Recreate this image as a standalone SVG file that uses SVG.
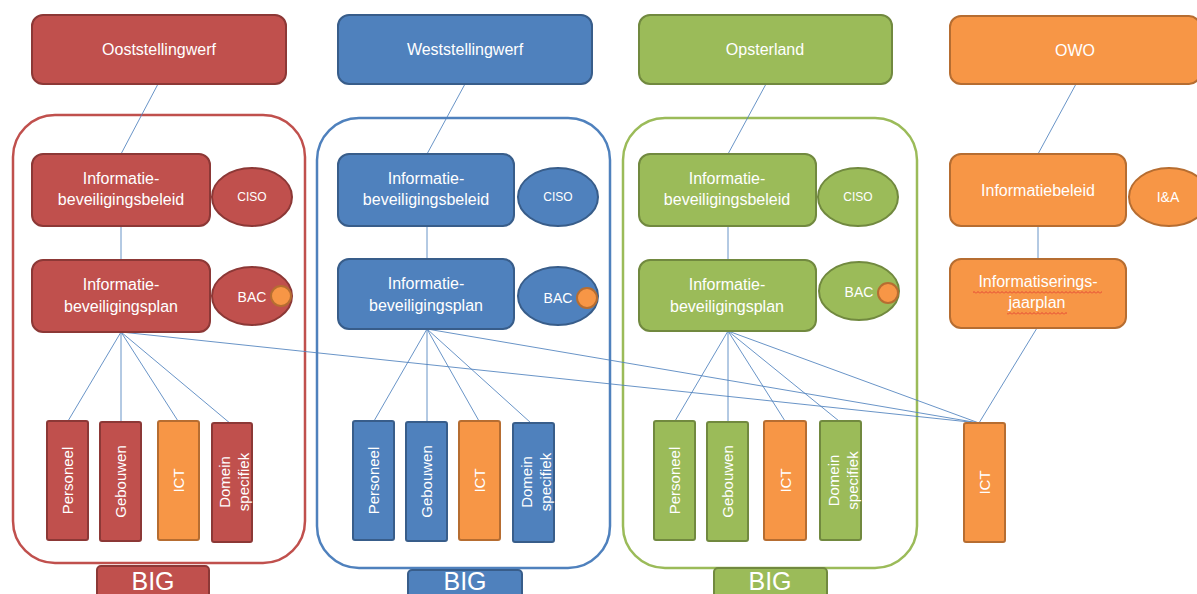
<svg xmlns="http://www.w3.org/2000/svg" width="1197" height="594" viewBox="0 0 1197 594">
<style>
.red{fill:#C0504D;stroke:#8C3836;stroke-width:2}
.blue{fill:#4F81BD;stroke:#385D8A;stroke-width:2}
.green{fill:#9BBB59;stroke:#71893F;stroke-width:2}
.orange{fill:#F79646;stroke:#B66D31;stroke-width:2}
.dot{fill:#F79646;stroke:#B66D31;stroke-width:2}
.cont{fill:#fff;stroke-width:2.5}
.t{font-family:"Liberation Sans",Arial,sans-serif;fill:#fff;text-anchor:middle}
.top{font-size:16px}
.mid{font-size:16px}
.sm{font-size:12px}
.bac{font-size:14px}
.v{font-size:15px}
.big{font-size:25px}
.conn path{fill:none;stroke:#4F81BD;stroke-width:1;opacity:0.85}
</style>
<defs>
<pattern id="wavy" width="4" height="3" patternUnits="userSpaceOnUse">
<path d="M0,2.5 L2,0.5 L4,2.5" fill="none" stroke="#E03030" stroke-width="0.8"/>
</pattern>
</defs>
<rect width="1197" height="594" fill="#fff"/>

<!-- containers -->
<g id="container-red"><rect class="cont" x="13" y="115" width="292" height="448" rx="42" stroke="#C0504D"/></g>
<g id="container-blue"><rect class="cont" x="317" y="118" width="293" height="450" rx="42" stroke="#4F81BD"/></g>
<g id="container-green"><rect class="cont" x="623" y="118" width="294" height="450" rx="42" stroke="#9BBB59"/></g>

<!-- BIG labels -->
<g id="big-red"><rect class="red" x="97" y="566" width="112" height="40" rx="4"/><text class="t big" x="153" y="590">BIG</text></g>
<g id="big-blue"><rect class="blue" x="408" y="570" width="114" height="40" rx="4"/><text class="t big" x="465" y="590">BIG</text></g>
<g id="big-green"><rect class="green" x="714" y="568" width="113" height="40" rx="4"/><text class="t big" x="770" y="590">BIG</text></g>

<g class="conn" id="connectors">
<path d="M158,84 L121,154"/>
<path d="M121,226 L121,260"/>
<path d="M121,332 L68,421"/>
<path d="M121,332 L121,422"/>
<path d="M121,332 L178,421"/>
<path d="M121,332 L231,424"/>
<path d="M121,332 L979,423"/>
<path d="M465,84 L427,154"/>
<path d="M427,226 L427,259"/>
<path d="M427,329 L374,421"/>
<path d="M427,329 L427,422"/>
<path d="M427,329 L479,421"/>
<path d="M427,329 L531,423"/>
<path d="M427,329 L979,423"/>
<path d="M766,84 L728,154"/>
<path d="M728,226 L728,260"/>
<path d="M728,331 L675,421"/>
<path d="M728,331 L728,422"/>
<path d="M728,331 L785,421"/>
<path d="M728,331 L839,421"/>
<path d="M728,331 L979,423"/>
<path d="M1076,84 L1038,154"/>
<path d="M1038,226 L1038,259"/>
<path d="M1037,328 L979,423"/>
</g>

<!-- Column 1: red -->
<g id="ooststellingwerf"><rect class="red" x="32" y="15" width="254" height="69" rx="11"/><text class="t top" x="159" y="55">Ooststellingwerf</text></g>
<g id="red-beleid"><rect class="red" x="32" y="154" width="178" height="72" rx="11"/><text class="t mid" x="121" y="184">Informatie-</text><text class="t mid" x="121" y="205">beveiligingsbeleid</text></g>
<g id="red-ciso"><ellipse class="red" cx="252" cy="197" rx="40" ry="29"/><text class="t sm" x="252" y="201">CISO</text></g>
<g id="red-plan"><rect class="red" x="32" y="260" width="178" height="72" rx="11"/><text class="t mid" x="121" y="290">Informatie-</text><text class="t mid" x="121" y="312">beveiligingsplan</text></g>
<g id="red-bac"><ellipse class="red" cx="252" cy="296" rx="40" ry="29"/><text class="t bac" x="252" y="302">BAC</text><circle class="dot" cx="281" cy="296" r="10"/></g>
<g id="red-personeel"><rect class="red" x="47" y="421" width="41" height="119" rx="2"/><text class="t v" transform="translate(67.5,480.5) rotate(-90)" y="5.5">Personeel</text></g>
<g id="red-gebouwen"><rect class="red" x="100" y="422" width="41" height="119" rx="2"/><text class="t v" transform="translate(120.5,481.5) rotate(-90)" y="5.5">Gebouwen</text></g>
<g id="red-ict"><rect class="orange" x="158" y="421" width="41" height="119" rx="2"/><text class="t v" transform="translate(178.5,480.5) rotate(-90)" y="5.5">ICT</text></g>
<g id="red-domein"><rect class="red" x="212" y="423" width="40" height="119" rx="2"/><text class="t v" transform="translate(232,482) rotate(-90)"><tspan x="0" y="-2">Domein</tspan><tspan x="0" y="17">specifiek</tspan></text></g>

<!-- Column 2: blue -->
<g id="weststellingwerf"><rect class="blue" x="338" y="15" width="254" height="69" rx="11"/><text class="t top" x="465" y="55">Weststellingwerf</text></g>
<g id="blue-beleid"><rect class="blue" x="338" y="154" width="176" height="72" rx="11"/><text class="t mid" x="426" y="184">Informatie-</text><text class="t mid" x="426" y="205">beveiligingsbeleid</text></g>
<g id="blue-ciso"><ellipse class="blue" cx="558" cy="197" rx="40" ry="29"/><text class="t sm" x="558" y="201">CISO</text></g>
<g id="blue-plan"><rect class="blue" x="338" y="259" width="176" height="70" rx="11"/><text class="t mid" x="426" y="289">Informatie-</text><text class="t mid" x="426" y="311">beveiligingsplan</text></g>
<g id="blue-bac"><ellipse class="blue" cx="558" cy="296" rx="40" ry="29"/><text class="t bac" x="558" y="303">BAC</text><circle class="dot" cx="587" cy="298" r="10"/></g>
<g id="blue-personeel"><rect class="blue" x="353" y="421" width="41" height="119" rx="2"/><text class="t v" transform="translate(373.5,480.5) rotate(-90)" y="5.5">Personeel</text></g>
<g id="blue-gebouwen"><rect class="blue" x="406" y="422" width="41" height="119" rx="2"/><text class="t v" transform="translate(426.5,481.5) rotate(-90)" y="5.5">Gebouwen</text></g>
<g id="blue-ict"><rect class="orange" x="459" y="421" width="41" height="119" rx="2"/><text class="t v" transform="translate(479.5,480.5) rotate(-90)" y="5.5">ICT</text></g>
<g id="blue-domein"><rect class="blue" x="513" y="423" width="41" height="119" rx="2"/><text class="t v" transform="translate(533.5,482) rotate(-90)"><tspan x="0" y="-2">Domein</tspan><tspan x="0" y="17">specifiek</tspan></text></g>

<!-- Column 3: green -->
<g id="opsterland"><rect class="green" x="639" y="15" width="253" height="69" rx="11"/><text class="t top" x="765" y="55">Opsterland</text></g>
<g id="green-beleid"><rect class="green" x="639" y="154" width="177" height="72" rx="11"/><text class="t mid" x="727" y="184">Informatie-</text><text class="t mid" x="727" y="205">beveiligingsbeleid</text></g>
<g id="green-ciso"><ellipse class="green" cx="858" cy="197" rx="40" ry="29"/><text class="t sm" x="858" y="201">CISO</text></g>
<g id="green-plan"><rect class="green" x="639" y="260" width="177" height="71" rx="11"/><text class="t mid" x="727" y="290">Informatie-</text><text class="t mid" x="727" y="312">beveiligingsplan</text></g>
<g id="green-bac"><ellipse class="green" cx="859" cy="291" rx="40" ry="29"/><text class="t bac" x="859" y="297">BAC</text><circle class="dot" cx="888" cy="293" r="10"/></g>
<g id="green-personeel"><rect class="green" x="654" y="421" width="41" height="119" rx="2"/><text class="t v" transform="translate(674.5,480.5) rotate(-90)" y="5.5">Personeel</text></g>
<g id="green-gebouwen"><rect class="green" x="707" y="422" width="41" height="119" rx="2"/><text class="t v" transform="translate(727.5,481.5) rotate(-90)" y="5.5">Gebouwen</text></g>
<g id="green-ict"><rect class="orange" x="764" y="421" width="42" height="119" rx="2"/><text class="t v" transform="translate(785,480.5) rotate(-90)" y="5.5">ICT</text></g>
<g id="green-domein"><rect class="green" x="820" y="421" width="41" height="119" rx="2"/><text class="t v" transform="translate(840.5,480.5) rotate(-90)"><tspan x="0" y="-2">Domein</tspan><tspan x="0" y="17">specifiek</tspan></text></g>

<!-- Column 4: orange -->
<g id="owo"><rect class="orange" x="950" y="16" width="250" height="68" rx="11"/><text class="t top" x="1075" y="56">OWO</text></g>
<g id="informatiebeleid"><rect class="orange" x="950" y="154" width="176" height="72" rx="11"/><text class="t mid" x="1038" y="196">Informatiebeleid</text></g>
<g id="ia"><ellipse class="orange" cx="1169" cy="197" rx="40" ry="29"/><text class="t bac" x="1168" y="202">I&amp;A</text></g>
<g id="jaarplan"><rect class="orange" x="950" y="259" width="176" height="69" rx="11"/><text class="t mid" x="1038" y="287">Informatiserings-</text><text class="t mid" x="1037" y="308">jaarplan</text><rect x="973" y="291" width="129" height="3" fill="url(#wavy)"/><rect x="1007" y="312" width="60" height="3" fill="url(#wavy)"/></g>
<g id="owo-ict"><rect class="orange" x="964" y="423" width="41" height="119" rx="2"/><text class="t v" transform="translate(984.5,482.5) rotate(-90)" y="5.5">ICT</text></g>
</svg>
